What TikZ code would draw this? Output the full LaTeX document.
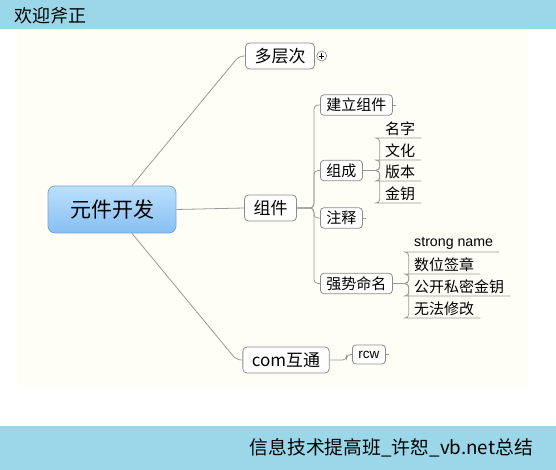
\documentclass[tikz,border=0pt]{standalone}
\usepackage{fontspec}
\usepackage{xcolor}
\usepackage{tikz}
\usetikzlibrary{positioning}
\setmainfont{Noto Sans CJK SC}
\newfontfamily\arialfont{Liberation Sans}
\definecolor{bandblue}{HTML}{9BD7E9}
\definecolor{cream}{HTML}{FFFEF6}
\definecolor{roottop}{HTML}{BCE0FD}
\definecolor{rootbot}{HTML}{86BFF2}
\definecolor{rootline}{HTML}{7AA6D0}
\definecolor{boxline}{HTML}{8C8C8C}
\definecolor{linecol}{HTML}{9A9A9A}

\begin{document}
\begin{tikzpicture}[x=1pt, y=-1pt, every node/.style={inner sep=0pt},
    rootbox/.style={draw=rootline, line width=0.8pt, rounded corners=7pt, top color=roottop, bottom color=rootbot, minimum width=128pt, minimum height=47pt, font=\fontsize{21}{21}\selectfont},
    mainbox/.style={draw=boxline, line width=0.8pt, fill=white, rounded corners=4pt, minimum height=26pt, inner xsep=9pt, font=\fontsize{17}{17}\selectfont},
    subbox/.style={draw=boxline, line width=0.8pt, fill=white, rounded corners=3.5pt, minimum height=20.5pt, inner xsep=6pt, font=\fontsize{15}{15}\selectfont},
    leaf/.style={anchor=south west, inner xsep=6pt, inner ysep=2.5pt, font=\fontsize{15}{15}\selectfont},
    branch/.style={draw=linecol, line width=0.8pt, rounded corners=4pt},
    uline/.style={draw=linecol, line width=0.8pt}]
    \useasboundingbox (0,0) rectangle (556,470);

    % Background
    \fill[white] (0,0) rectangle (556,470);
    \fill[bandblue] (0,0) rectangle (556,29);
    \fill[cream] (17,29) rectangle (528,385);
    \fill[bandblue] (0,426) rectangle (556,470);
    \node[anchor=west, font=\fontsize{18}{18}\selectfont] (title) at (14,16) {欢迎斧正};
    \node[anchor=east, font=\fontsize{18.8}{18.8}\selectfont] (footer) at (533,448) {信息技术提高班\_许恕\_vb.net总结};

    % Root and main topics
    \node[rootbox] (root) at (112,209.5) {元件开发};
    \node[mainbox] (ml) at (280,56) {多层次};
    \node[circle, draw=boxline, line width=0.7pt, fill=white, minimum size=10pt, right=1.5pt of ml] (mlplus) {};
    \draw[line width=0.8pt] ([xshift=-2.6pt]mlplus.center) -- ([xshift=2.6pt]mlplus.center)
        ([yshift=-2.6pt]mlplus.center) -- ([yshift=2.6pt]mlplus.center);
    \node[mainbox] (zj) at (270.5,208) {组件};
    \node[mainbox] (com) at (286,360) {com互通};
    \draw[branch, rounded corners=5pt] ([xshift=20pt]root.north) -- ([xshift=-6pt]ml.west) -- (ml.west);
    \draw[branch] (root.east) -- (zj.west);
    \draw[branch, rounded corners=5pt] ([xshift=20pt]root.south) -- ([xshift=-6pt]com.west) -- (com.west);

    % Sub topics of 组件
    \node[subbox, anchor=west] (jl) at (320,105) {建立组件};
    \node[subbox, anchor=west] (zc) at (320,170.5) {组成};
    \node[subbox, anchor=west] (zs) at (320,218) {注释};
    \node[subbox, anchor=west] (qs) at (320,283.5) {强势命名};
    \foreach \n in {jl,zc,zs,qs}
        \draw[branch] (zj.east) -- ++(17,0) |- (\n.west);
    \draw[uline] (jl.east) -- ++(3,0);
    \draw[uline] (zs.east) -- ++(3,0);

    % Leaves of 组成
    \node[leaf] (mz) at (379,138) {名字};
    \node[leaf] (wh) at (379,160) {文化};
    \node[leaf] (bb) at (379,181) {版本};
    \node[leaf] (jy) at (379,203) {金钥};
    \foreach \n in {mz,wh,bb,jy}
        \draw[branch] (zc.east) -- ++(17,0) |- (\n.south west) -- (\n.south east);

    % Leaves of 强势命名
    \node[leaf, font=\arialfont\fontsize{14.2}{14.2}\selectfont] (sn) at (408,252) {strong name};
    \node[leaf] (sw) at (408,274) {数位签章};
    \node[leaf] (gk) at (408,296) {公开私密金钥};
    \node[leaf] (wf) at (408,318) {无法修改};
    \foreach \n in {sn,sw,gk,wf}
        \draw[branch] (qs.east) -- ++(16,0) |- (\n.south west) -- (\n.south east);

    % com互通
    \node[subbox, anchor=west, minimum height=19pt, font=\arialfont\fontsize{13.5}{13.5}\selectfont] (rcw) at (352,354.5) {rcw};
    \draw[branch] (com.east) -- ++(17,0) |- (rcw.west);
    \draw[uline] (rcw.east) -- ++(3,0);
\end{tikzpicture}
\end{document}
